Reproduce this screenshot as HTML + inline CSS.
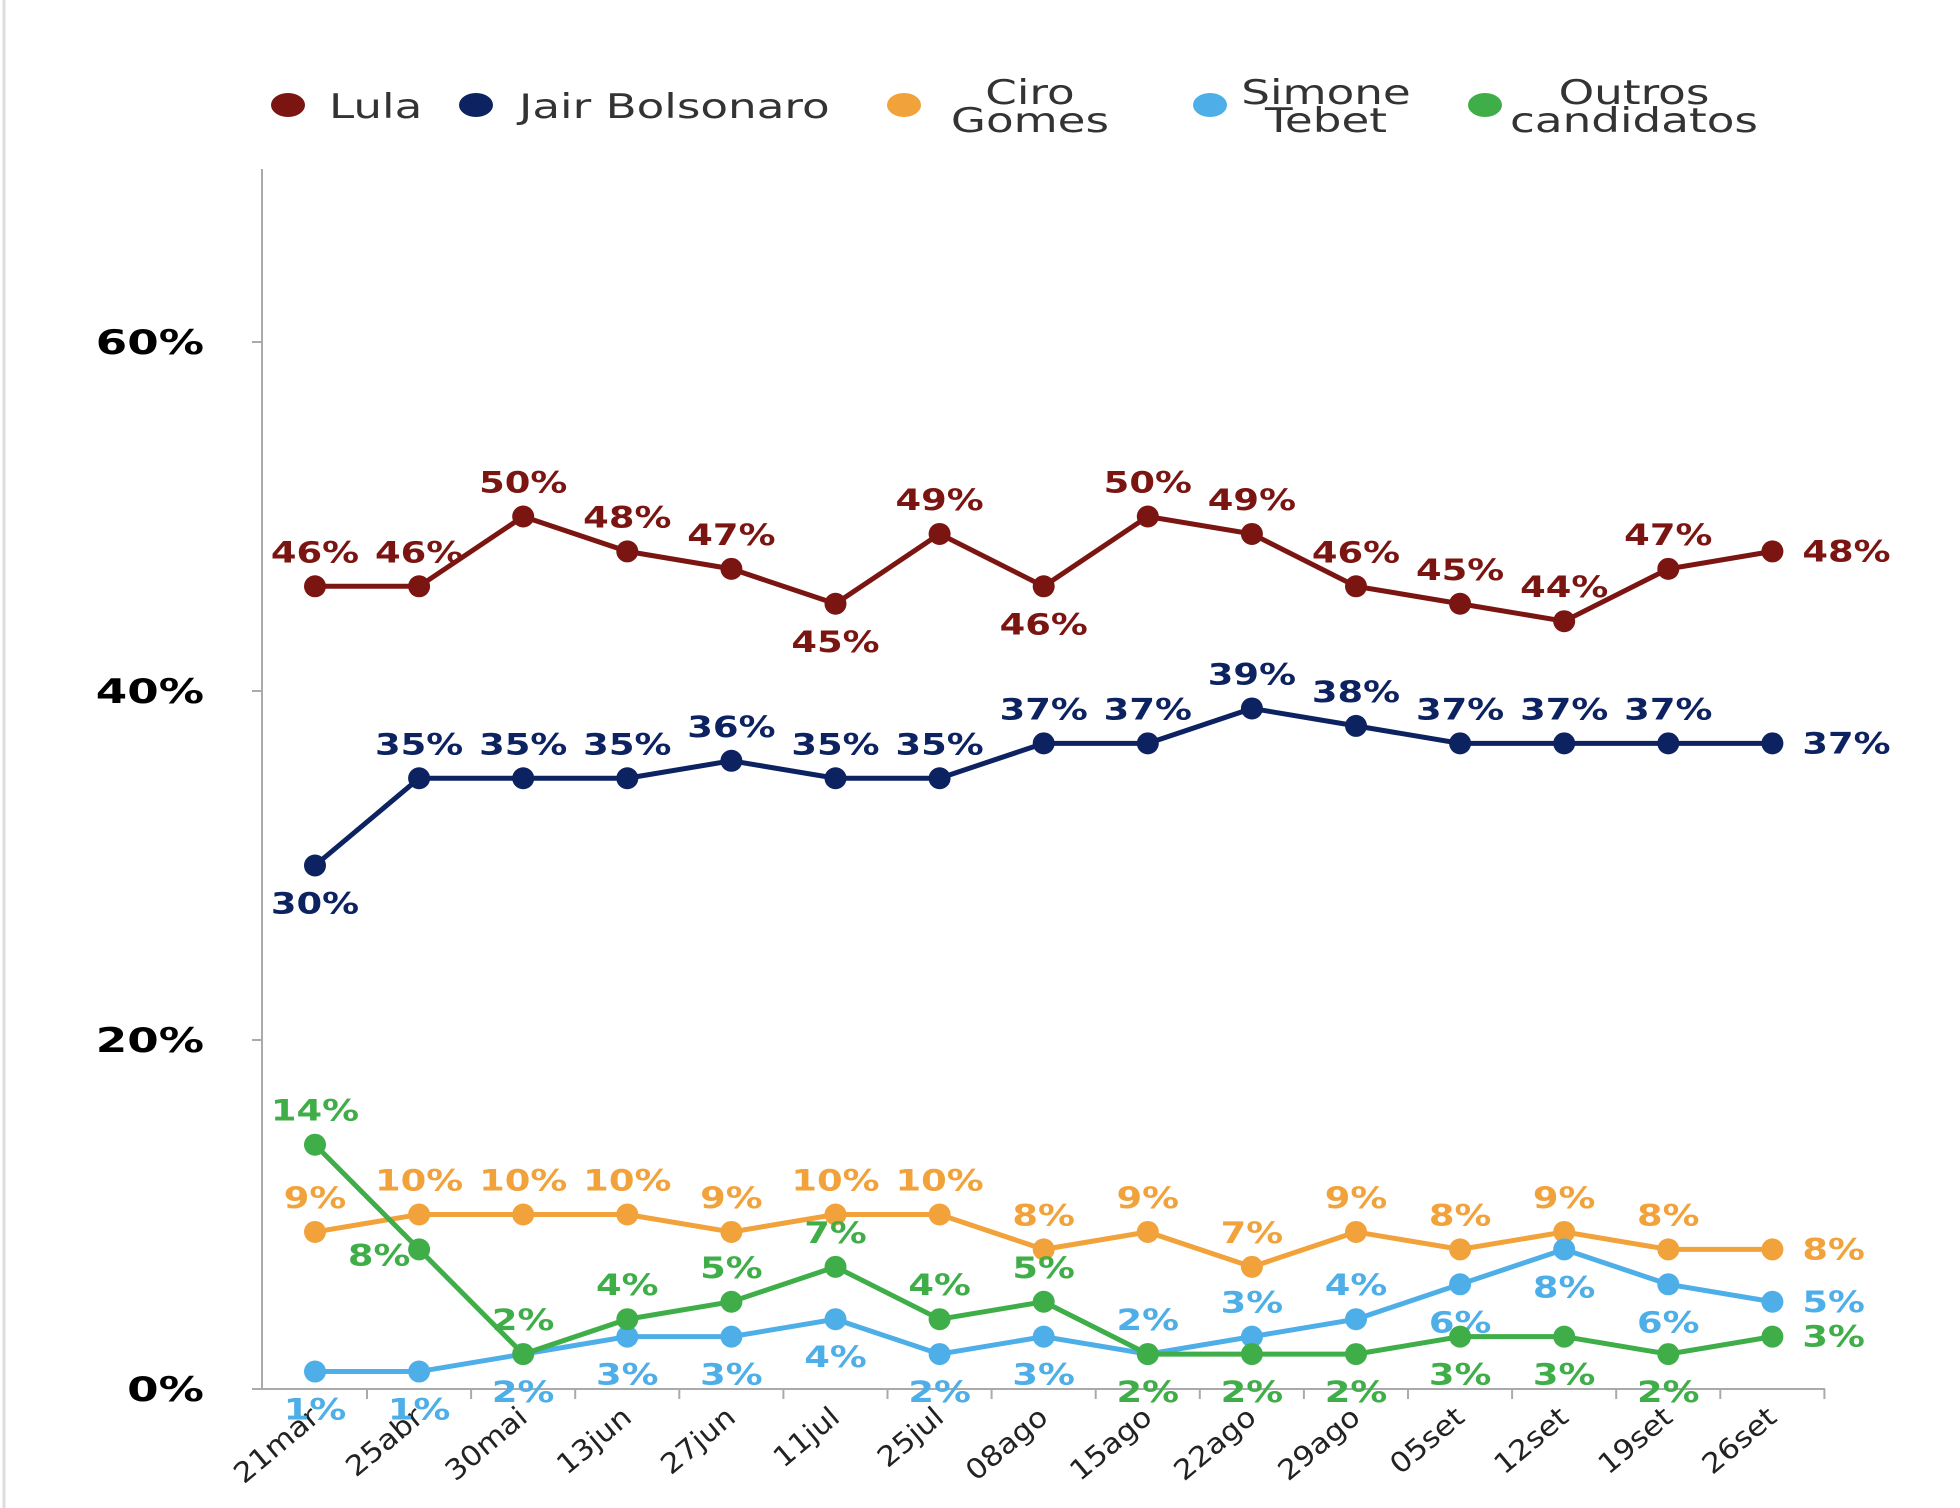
<!DOCTYPE html>
<html><head><meta charset="utf-8"><style>
body{margin:0;background:#fff;}
svg{display:block;font-family:"DejaVu Sans","Liberation Sans",sans-serif;}
</style></head><body>
<svg id="chart" width="1960" height="1508">
<line x1="4" y1="0" x2="4" y2="1508" stroke="#ddd" stroke-width="3"/>
<g id="legend"></g>
<g id="axes"></g>
<g id="series"></g>
</svg>
<script>
const categories=["21mar","25abr","30mai","13jun","27jun","11jul","25jul","08ago","15ago","22ago","29ago","05set","12set","19set","26set"];
const lula=[46,46,50,48,47,45,49,46,50,49,46,45,44,47,48];
const bolsonaro=[30,35,35,35,36,35,35,37,37,39,38,37,37,37,37];
const ciro=[9,10,10,10,9,10,10,8,9,7,9,8,9,8,8];
const simone=[1,1,2,3,3,4,2,3,2,3,4,6,8,6,5];
const outros=[14,8,2,4,5,7,4,5,2,2,2,3,3,2,3];
const yTicks=[0,20,40,60];
const NS="http://www.w3.org/2000/svg";
function x(i){return 315+i*104.1;}
function y(v){return 1389-v*(1389-342)/60;}
function mk(tag,attrs,parent){const e=document.createElementNS(NS,tag);for(const k in attrs)e.setAttribute(k,attrs[k]);parent.appendChild(e);return e;}
function widen(t,f){const w=t.getComputedTextLength();t.setAttribute('textLength',(w*f).toFixed(1));t.setAttribute('lengthAdjust','spacingAndGlyphs');}
const axes=document.getElementById('axes');
let a=mk('line',{x1:262,y1:169,x2:262,y2:1389,stroke:'#aaa','stroke-width':2},axes);


a=mk('line',{x1:262,y1:1389,x2:1825,y2:1389,stroke:'#aaa','stroke-width':2},axes);


yTicks.forEach(t=>{
  const tk=mk('line',{x1:252,y1:y(t),x2:262,y2:y(t),stroke:'#aaa','stroke-width':2},axes);
  
  
  const tx=mk('text',{x:204,y:y(t)+12,'text-anchor':'end','font-size':34,'font-weight':'bold',fill:'#000'},axes);
  tx.textContent=t+'%';
  
  
  widen(tx,1.33);
});
categories.forEach((c,i)=>{
  const tk=mk('line',{x1:x(i)+52,y1:1389,x2:x(i)+52,y2:1399,stroke:'#aaa','stroke-width':2},axes);
  
  
  const ax=x(i)+6, ay=1420;
  const tx=mk('text',{x:ax,y:ay,'text-anchor':'end','font-size':28,fill:'#222',transform:`rotate(-40 ${ax} ${ay})`},axes);
  tx.textContent=c;
  
  
  widen(tx,1.1);
});
const S=[
 {name:'lula',vals:lula,color:'#7b1512',pos:'aaaaababaaaaaar'.split('')},
 {name:'bolsonaro',vals:bolsonaro,color:'#0d2260',pos:'baaaaaaaaaaaaar'.split('')},
 {name:'ciro',vals:ciro,color:'#f2a23a',pos:'aaaaaaaaaaaaaar'.split('')},
 {name:'simone',vals:simone,color:'#4eaee8',pos:'bbbbbbbbaaabbbr'.split('')},
 {name:'outros',vals:outros,color:'#3fae49',pos:'alaaaaaabbbbbbr'.split('')}
];
const sg=document.getElementById('series');
S.forEach(s=>{
  const g=mk('g',{},sg);
  
  
  const p=mk('polyline',{points:s.vals.map((v,i)=>x(i)+','+y(v)).join(' '),fill:'none',stroke:s.color,'stroke-width':5},g);
  
  
  s.vals.forEach((v,i)=>{
    const c=mk('circle',{cx:x(i),cy:y(v),r:11,fill:s.color},g);
    
    
    const ps=s.pos[i];let lx=x(i),ly=y(v)-24,anc='middle';
    if(ps==='b')ly=y(v)+48;
    if(ps==='r'){lx=x(i)+30;ly=y(v)+10;anc='start';}
    if(ps==='l'){lx=x(i)-40;ly=y(v)+16;}
    const t=mk('text',{x:lx,y:ly,'text-anchor':anc,'font-size':29,'font-weight':'bold',fill:s.color},g);
    t.textContent=v+'%';
    
    
    widen(t,1.27);
  });
});
const lg=document.getElementById('legend');
const L=[
 {c:'#7b1512',dx:288,lines:['Lula'],tx:329,anc:'start'},
 {c:'#0d2260',dx:476,lines:['Jair Bolsonaro'],tx:519,anc:'start'},
 {c:'#f2a23a',dx:904,lines:['Ciro','Gomes'],tx:1030,anc:'middle'},
 {c:'#4eaee8',dx:1210,lines:['Simone','Tebet'],tx:1326,anc:'middle'},
 {c:'#3fae49',dx:1485,lines:['Outros','candidatos'],tx:1634,anc:'middle'}
];
L.forEach(l=>{
  const d=mk('ellipse',{cx:l.dx,cy:105,rx:17,ry:12,fill:l.c},lg);
  
  
  l.lines.forEach((ln,j)=>{
    const yy=l.lines.length===1?118:104+j*28;
    const t=mk('text',{x:l.tx,y:yy,'text-anchor':l.anc,'font-size':34,fill:'#333'},lg);
    t.textContent=ln;
    
    
    widen(t,1.33);
  });
});
</script>
</body></html>
